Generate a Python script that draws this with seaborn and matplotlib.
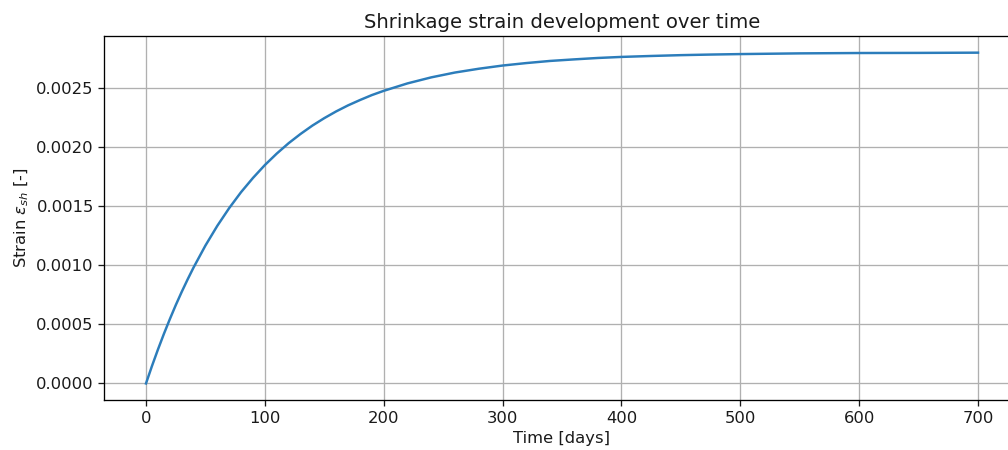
import matplotlib
matplotlib.use("Agg")
import matplotlib.pyplot as plt
import seaborn as sns
import pandas as pd

# Shrinkage strain readings (days, strain)
time_days = [0, 5, 10, 15, 20, 25, 30, 35, 40, 50, 60, 70, 80, 90, 100,
             110, 120, 130, 140, 150, 160, 170, 180, 190, 200, 220, 240, 260,
             280, 300, 320, 340, 360, 380, 400, 425, 450, 475, 500, 550, 600,
             650, 700]
strain = [0.0, 0.000147, 0.000286, 0.000418, 0.000543, 0.000662, 0.000774,
          0.000880, 0.000981, 0.001167, 0.001334, 0.001484, 0.001619,
          0.001739, 0.001848, 0.001945, 0.002033, 0.002111, 0.002182,
          0.002245, 0.002302, 0.002353, 0.002398, 0.002440, 0.002476,
          0.002539, 0.002590, 0.002631, 0.002663, 0.002690, 0.002711,
          0.002729, 0.002742, 0.002754, 0.002763, 0.002771, 0.002778,
          0.002783, 0.002787, 0.002793, 0.002796, 0.002797, 0.002799]

df = pd.DataFrame({"t": time_days, "eps": strain})

s = 1.18  # overall scale for text and strokes
plt.rcParams.update({
    "font.size": 10 * s,
    "xtick.major.size": 3.5 * s,
    "ytick.major.size": 3.5 * s,
    "xtick.major.width": 0.8 * s,
    "ytick.major.width": 0.8 * s,
    "axes.linewidth": 0.8 * s,
    "text.color": "#1a1a1a",
    "axes.labelcolor": "#1a1a1a",
    "xtick.color": "#1a1a1a",
    "ytick.color": "#1a1a1a",
})

fig = plt.figure(figsize=(10.08, 4.5), dpi=100)
ax = fig.add_axes([104.4 / 1008, 1 - 400 / 450, (1019.6 - 104.4) / 1008, (400 - 36) / 450])

sns.lineplot(data=df, x="t", y="eps", ax=ax, color="#2c7dbb", linewidth=1.5 * s)

ax.grid(True, color="#b0b0b0", linewidth=0.8 * s)
ax.set_xticks([0, 100, 200, 300, 400, 500, 600, 700])
ax.set_yticks([0.0, 0.0005, 0.0010, 0.0015, 0.0020, 0.0025])
ax.set_yticklabels(["0.0000", "0.0005", "0.0010", "0.0015", "0.0020", "0.0025"])
ax.set_xlim(-35, 735)
ax.set_ylim(-0.00014, 0.00294)
ax.set_xlabel("Time [days]")
ax.set_ylabel(r"Strain $\varepsilon_{sh}$ [-]")
ax.set_title("Shrinkage strain development over time", fontsize=12 * s)

fig.savefig("out.png", dpi=100)
